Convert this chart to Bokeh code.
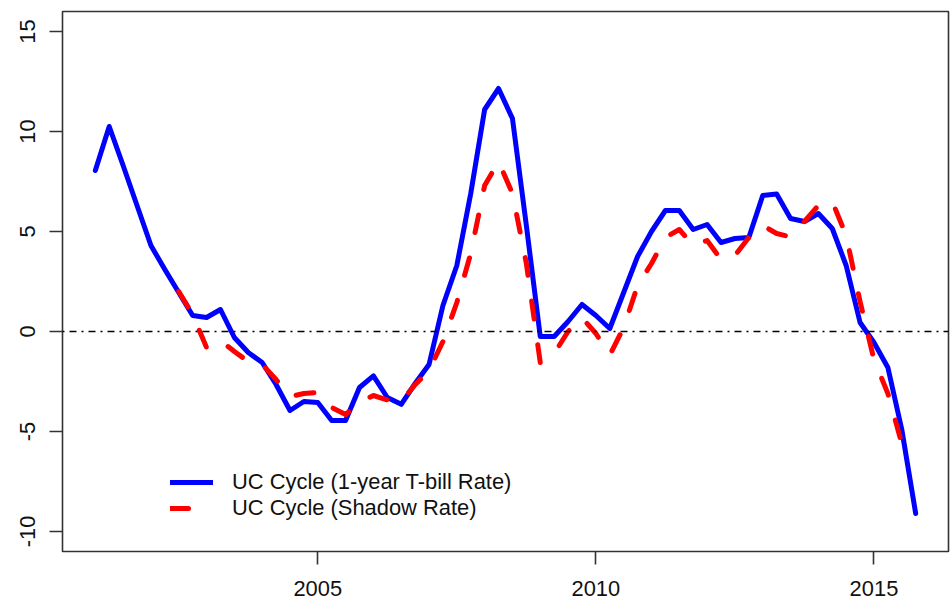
import numpy as np
from bokeh.plotting import figure
from bokeh.models import Range1d, Span, Legend, LegendItem, FixedTicker
from bokeh.embed import file_html
from bokeh.resources import INLINE

# Quarterly observations, 2001Q1 .. 2015Q4 (decimal years)
quarters = [2001.00, 2001.25, 2001.50, 2001.75, 2002.00, 2002.25, 2002.50, 2002.75,
            2003.00, 2003.25, 2003.50, 2003.75, 2004.00, 2004.25, 2004.50, 2004.75,
            2005.00, 2005.25, 2005.50, 2005.75, 2006.00, 2006.25, 2006.50, 2006.75,
            2007.00, 2007.25, 2007.50, 2007.75, 2008.00, 2008.25, 2008.50, 2008.75,
            2009.00, 2009.25, 2009.50, 2009.75, 2010.00, 2010.25, 2010.50, 2010.75,
            2011.00, 2011.25, 2011.50, 2011.75, 2012.00, 2012.25, 2012.50, 2012.75,
            2013.00, 2013.25, 2013.50, 2013.75, 2014.00, 2014.25, 2014.50, 2014.75,
            2015.00, 2015.25, 2015.50, 2015.75]

uc_tbill = [8.05, 10.25, 8.3, 6.3, 4.3, 3.1, 1.95, 0.8,
            0.7, 1.1, -0.3, -1.05, -1.55, -2.65, -3.95, -3.5,
            -3.55, -4.45, -4.45, -2.8, -2.22, -3.3, -3.64, -2.6,
            -1.65, 1.3, 3.3, 6.9, 11.1, 12.15, 10.65, 5.3,
            -0.25, -0.25, 0.5, 1.35, 0.8, 0.15, 1.95, 3.75,
            5.0, 6.05, 6.05, 5.1, 5.35, 4.45, 4.65, 4.7,
            6.8, 6.88, 5.65, 5.5, 5.9, 5.15, 3.3, 0.45,
            -0.55, -1.8, -4.9, -9.1]

uc_shadow = [None, None, None, None, None, None, 2.0, 0.85,
             -0.8, -0.45, -1.0, -1.5, -1.65, -2.4, -3.25, -3.1,
             -3.05, -3.8, -4.15, -3.55, -3.2, -3.42, -3.5, -2.66,
             -1.95, -0.5, 1.45, 3.9, 7.3, 8.5, 6.9, 3.4,
             -1.55, -1.1, 0.0, 0.7, -0.1, -1.18, 0.2, 2.3,
             3.4, 4.7, 5.1, 4.3, 4.55, 3.6, 3.8, 4.7,
             5.3, 4.9, 4.73, 5.5, 6.3, 6.5, 4.8, 1.5,
             -1.4, -3.1, -5.6, None]

x_ticks = [2005, 2010, 2015]
y_ticks = [-10, -5, 0, 5, 10, 15]
series_labels = ["UC Cycle (1-year T-bill Rate)", "UC Cycle (Shadow Rate)"]

FONT = "Liberation Sans"
FS = "21.9px"

x = np.array(quarters, dtype=float)
yb = np.array(uc_tbill, dtype=float)
yr = np.array([np.nan if v is None else v for v in uc_shadow], dtype=float)

p = figure(width=950, height=605, output_backend="svg", toolbar_location=None,
           x_range=Range1d(2000.41, 2016.34), y_range=Range1d(-11, 16),
           min_border_left=62, min_border_right=2, min_border_top=11, min_border_bottom=54)
p.grid.visible = False
p.outline_line_color = "#333333"
p.outline_line_width = 1.6
p.background_fill_color = "white"
p.border_fill_color = "white"

p.xaxis.ticker = FixedTicker(ticks=x_ticks)
p.yaxis.ticker = FixedTicker(ticks=y_ticks)
p.xaxis.major_label_overrides = {t: str(t) for t in x_ticks}
p.yaxis.major_label_overrides = {t: str(t) for t in y_ticks}
for ax in (p.xaxis[0], p.yaxis[0]):
    ax.axis_line_color = None
    ax.major_tick_in = 0
    ax.major_tick_out = 13
    ax.major_tick_line_color = "#333333"
    ax.major_tick_line_width = 1.6
    ax.minor_tick_line_color = None
    ax.major_label_text_font = FONT
    ax.major_label_text_font_size = FS
    ax.major_label_text_color = "#111111"
p.xaxis.major_label_standoff = 16
p.yaxis.major_label_standoff = 15
p.yaxis.major_label_orientation = "vertical"

zero = Span(location=0, dimension="width", line_color="black", line_width=1.4,
            line_dash="2 5 7 5")
p.add_layout(zero)

r1 = p.line(x, yb, line_color="#0000FF", line_width=5, line_join="round", line_cap="round")
r2 = p.line(x, yr, line_color="#FF0000", line_width=5, line_join="round", line_cap="round",
            line_dash="18 26")

legend = Legend(items=[LegendItem(label=series_labels[0], renderers=[r1]),
                       LegendItem(label=series_labels[1], renderers=[r2])],
                location=(108, 30), glyph_width=43, glyph_height=20, label_standoff=19,
                spacing=0, padding=0, margin=0, border_line_alpha=0, background_fill_alpha=0,
                label_text_font=FONT, label_text_font_size=FS, label_text_color="#111111")
p.add_layout(legend)

open("out.html", "w").write(file_html(p, INLINE))
